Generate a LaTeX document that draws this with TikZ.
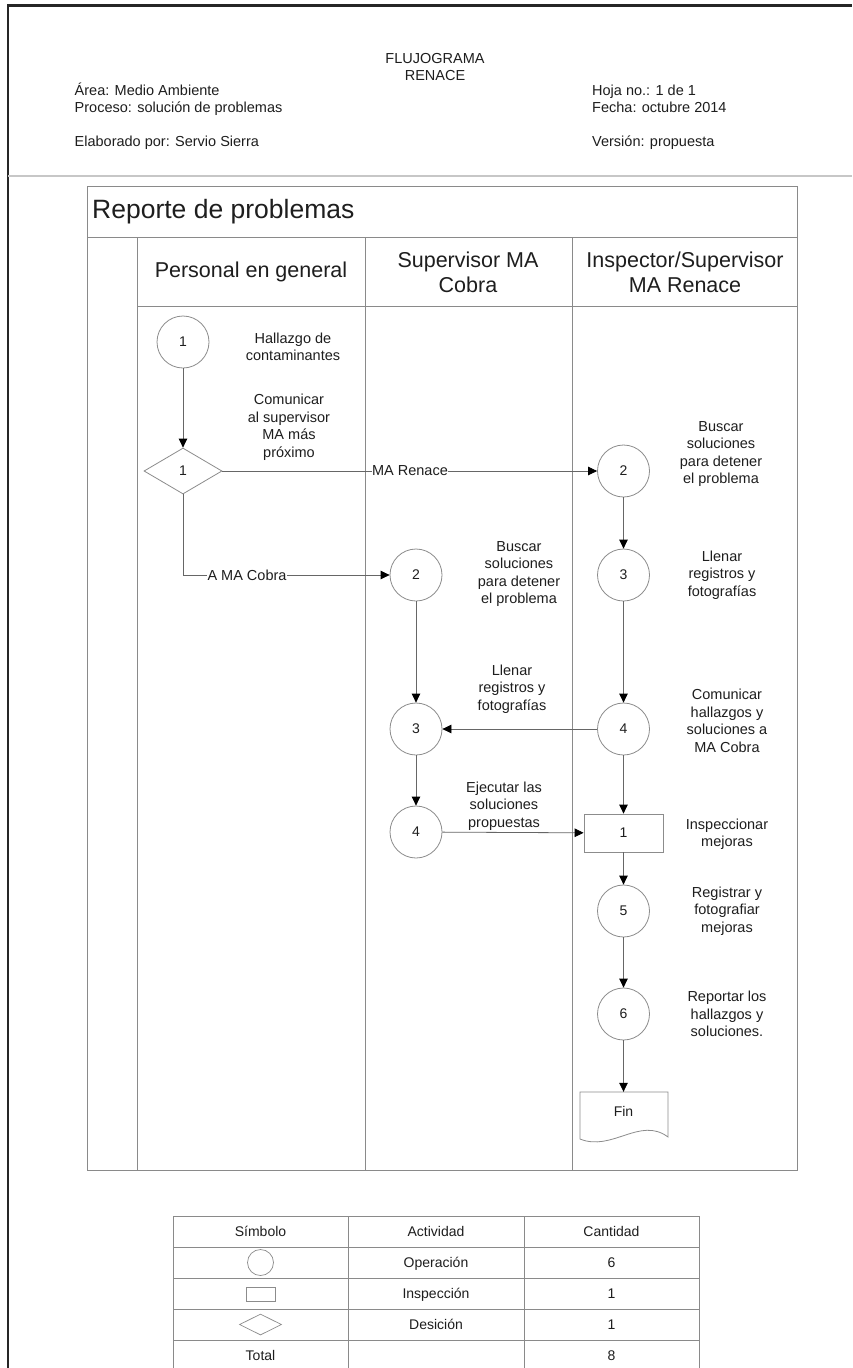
\documentclass[tikz,border=0pt]{standalone}
\usepackage{fontspec}
\setmainfont{Liberation Sans}
\usetikzlibrary{arrows.meta,shapes.geometric}
\definecolor{ink}{HTML}{1E1E1E}
\definecolor{rulegray}{HTML}{8A8A8A}
\definecolor{outlgray}{HTML}{8C8C8C}
\begin{document}
\begin{tikzpicture}[x=1pt,y=-1pt,
  every node/.style={text=ink},
  lanerule/.style={draw=rulegray, line width=0.9pt},
  op/.style={circle, draw=outlgray, line width=0.8pt, minimum size=52pt, inner sep=0pt,
             font=\fontsize{14}{16}\selectfont},
  insp/.style={rectangle, draw=outlgray, line width=0.8pt, minimum width=79pt, minimum height=38pt,
             inner sep=0pt, font=\fontsize{14}{16}\selectfont},
  dec/.style={diamond, draw=outlgray, line width=0.8pt, aspect=1.7, minimum width=78pt,
             minimum height=46pt, inner sep=0pt, font=\fontsize{14}{16}\selectfont},
  flow/.style={draw=black!60, line width=0.8pt,
             -{Triangle[length=9pt,width=8.5pt,color=black]}},
  note/.style={align=center, font=\fontsize{14.5}{17.5}\selectfont},
  onlabel/.style={fill=white, inner sep=0.5pt, font=\fontsize{14.5}{17.5}\selectfont},
  meta/.style={anchor=base west, inner sep=0pt, font=\fontsize{14.5}{17}\selectfont},
  lanehead/.style={align=center, font=\fontsize{21.5}{25}\selectfont},
  cell/.style={anchor=base, font=\fontsize{14}{16}\selectfont},
  tabrule/.style={draw=rulegray, line width=0.8pt}
]
\useasboundingbox (0,0) rectangle (852,1368);
\fill[white] (0,0) rectangle (852,1368);

% page frame and header
\draw[black!85, line width=2.7pt] (8,1368) -- (8,5.3) -- (852,5.3);
\draw[black!22, line width=2pt] (8,176) -- (852,176);

\node[anchor=base, inner sep=0pt, font=\fontsize{14.5}{17}\selectfont] (ttl1) at (435,63) {FLUJOGRAMA};
\node[anchor=base, inner sep=0pt, font=\fontsize{14.5}{17}\selectfont] (ttl2) at (435,80) {RENACE};
\node[meta] (area) at (74.5,95) {Área: Medio Ambiente};
\node[meta] (proc) at (74.5,112) {Proceso: solución de problemas};
\node[meta] (elab) at (74.5,146.5) {Elaborado por: Servio Sierra};
\node[meta] (hoja) at (592,95) {Hoja no.: 1 de 1};
\node[meta] (fecha) at (592,112) {Fecha: octubre 2014};
\node[meta] (vers) at (592,146.5) {Versión: propuesta};

% swimlane pool
\draw[lanerule] (87,186.5) rectangle (797.5,1170);
\draw[lanerule] (87,237) -- (797.5,237);
\draw[lanerule] (137.5,306) -- (797.5,306);
\draw[lanerule] (137.5,237) -- (137.5,1170);
\draw[lanerule] (365,237) -- (365,1170);
\draw[lanerule] (572.5,237) -- (572.5,1170);
\node[anchor=west, font=\fontsize{26.5}{30}\selectfont, inner sep=0pt] (pool) at (92,211.5) {Reporte de problemas};

\node[lanehead] (laneA) at (251,272) {Personal en general};
\node[lanehead] (laneB) at (468,272) {Supervisor MA\\Cobra};
\node[lanehead] (laneC) at (685,272) {Inspector/Supervisor\\MA Renace};

% steps
\node[op]   (a1) at (183,342) {1};
\node[dec]  (d1) at (183,471) {1};
\node[op]   (c2) at (623.5,471) {2};
\node[op]   (b2) at (416,575) {2};
\node[op]   (c3) at (623.5,575) {3};
\node[op]   (b3) at (416,729) {3};
\node[op]   (c4) at (623.5,729) {4};
\node[op]   (b4) at (416,832) {4};
\node[insp] (i1) at (623.5,833) {1};
\node[op]   (c5) at (623.5,911) {5};
\node[op]   (c6) at (623.5,1014) {6};
\node[minimum width=88pt, minimum height=38pt, inner sep=0pt,
      font=\fontsize{14}{16}\selectfont] (fin) at (623.5,1111) {Fin};
\draw[outlgray, line width=0.8pt]
  (580,1092) -- (668,1092) -- (668,1137)
  .. controls (640,1116) and (612,1152) .. (580,1139) -- cycle;

% descriptions
\node[note] (n1) at (293,347) {Hallazgo de\\contaminantes};
\node[note] (n2) at (289,427) {Comunicar\\al supervisor\\MA más\\próximo};
\node[note] (n3) at (721,454) {Buscar\\soluciones\\para detener\\el problema};
\node[note] (n4) at (519,574) {Buscar\\soluciones\\para detener\\el problema};
\node[note] (n5) at (722,575) {Llenar\\registros y\\fotografías};
\node[note] (n6) at (512,689) {Llenar\\registros y\\fotografías};
\node[note] (n7) at (727,721) {Comunicar\\hallazgos y\\soluciones a\\MA Cobra};
\node[note] (n8) at (504,806) {Ejecutar las\\soluciones\\propuestas};
\node[note] (n9) at (727,834) {Inspeccionar\\mejoras};
\node[note] (n10) at (727,911) {Registrar y\\fotografiar\\mejoras};
\node[note] (n11) at (727,1014) {Reportar los\\hallazgos y\\soluciones.};

% connectors
\coordinate (bend) at (d1.south |- b2);
\draw[flow] (a1) -- (d1);
\draw[flow] (d1.east) -- (c2.west);
\node[onlabel] (lblR) at (410,471) {MA Renace};
\draw[flow] (d1.south) -- (bend) -- (b2.west);
\node[onlabel] (lblC) at (247,575) {A MA Cobra};
\draw[flow] (c2) -- (c3);
\draw[flow] (c3) -- (c4);
\draw[flow] (b2) -- (b3);
\draw[flow] (c4) -- (b3);
\draw[flow] (b3) -- (b4);
\draw[flow] (b4) -- (i1);
\draw[flow] (c4) -- (i1);
\draw[flow] (i1) -- (c5);
\draw[flow] (c5) -- (c6);
\draw[flow] (c6) -- (fin.north);

% summary table
\draw[tabrule] (173,1216) rectangle (699.5,1372);
\foreach \yy in {1247,1278,1309,1340} \draw[tabrule] (173,\yy) -- (699.5,\yy);
\foreach \xx in {348,524} \draw[tabrule] (\xx,1216) -- (\xx,1372);

\node[cell] (h1) at (260.5,1236.5) {Símbolo};
\node[cell] (h2) at (436,1236.5) {Actividad};
\node[cell] (h3) at (611.5,1236.5) {Cantidad};
\node[circle, draw=outlgray, line width=0.7pt, minimum width=26pt, inner sep=0pt] (s1) at (260.5,1262.5) {};
\node[cell] (r1) at (436,1267.5) {Operación};
\node[cell] (q1) at (611.5,1267.5) {6};
\node[rectangle, draw=outlgray, line width=0.7pt, minimum width=29pt, minimum height=14pt, inner sep=0pt] (s2) at (260.5,1294) {};
\node[cell] (r2) at (436,1298.5) {Inspección};
\node[cell] (q2) at (611.5,1298.5) {1};
\node[diamond, draw=outlgray, line width=0.7pt, aspect=2, minimum width=42pt, minimum height=21pt, inner sep=0pt] (s3) at (260.5,1324.5) {};
\node[cell] (r3) at (436,1329.5) {Desición};
\node[cell] (q3) at (611.5,1329.5) {1};
\node[cell] (tot) at (260.5,1360.5) {Total};
\node[cell] (q4) at (611.5,1360.5) {8};
\end{tikzpicture}
\end{document}
